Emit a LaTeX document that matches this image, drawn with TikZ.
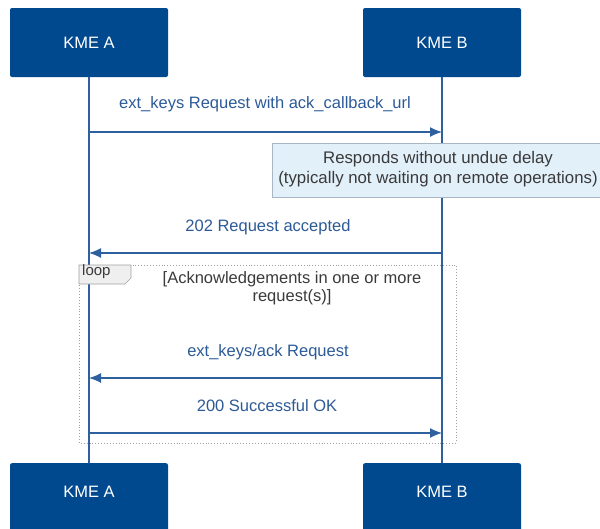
\documentclass[tikz,border=0pt]{standalone}
\usepackage{fontspec}
\setmainfont{Liberation Sans}
\usetikzlibrary{arrows.meta}
\definecolor{kmefill}{HTML}{00498F}
\definecolor{lineblue}{HTML}{2E5F9E}
\definecolor{labelblue}{HTML}{2C5A96}
\definecolor{notefill}{HTML}{E2F0FA}
\definecolor{noteborder}{HTML}{A9B6C4}
\definecolor{textgray}{HTML}{3A3A3A}
\definecolor{loopgray}{HTML}{A0A0A0}
\definecolor{tabfill}{HTML}{EFEFEF}
\tikzset{
  kme/.style={fill=kmefill, draw=none, rounded corners=2pt, minimum width=158pt, minimum height=69pt, text=white, font=\fontsize{16.5}{18}\selectfont, inner sep=0pt},
  kmetext/.style={text=white, font=\fontsize{16.5}{18}\selectfont, inner sep=0pt},
  life/.style={draw=lineblue, line width=1.3pt},
  msg/.style={draw=lineblue, line width=1.3pt, -{Latex[length=12pt,width=10pt]}},
  msglabel/.style={text=labelblue, font=\fontsize{16.5}{18}\selectfont, inner sep=0pt},
  notebox/.style={fill=notefill, draw=noteborder, line width=0.6pt},
  notetext/.style={text=textgray, font=\fontsize{16.8}{20}\selectfont, align=center, inner sep=0pt},
  guardtext/.style={text=textgray, font=\fontsize{16.5}{17.5}\selectfont, align=center, inner sep=0pt},
  loopframe/.style={draw=loopgray, dotted, line width=0.9pt},
}
\begin{document}
\begin{tikzpicture}[x=1pt, y=-1pt]
\useasboundingbox (0,0) rectangle (600,528);
% participant boxes
\node[kme] (topA) at (89,42.5) {KME A};
\node[kme] (topB) at (442,42.5) {KME B};
\node[kme, anchor=north] (botA) at (89,463) {};
\node[kme, anchor=north] (botB) at (442,463) {};
\node[kmetext] (botAtext) at (89,492) {KME A};
\node[kmetext] (botBtext) at (442,492) {KME B};
% lifelines
\draw[life] (topA.south) -- (botA.north);
\draw[life] (topB.south) -- (botB.north);
% message 1
\coordinate (a1) at (topA.south |- 0,132);
\coordinate (b1) at (topB.south |- 0,132);
\draw[msg] (a1) -- (b1);
\node[msglabel] (l1) at (265,104) {ext\_keys Request with ack\_callback\_url};
% note
\path[notebox] (272,143) rectangle (602,197);
\node[notetext] (note) at (438,169) {Responds without undue delay\\(typically not waiting on remote operations)};
% message 2
\coordinate (b2) at (topB.south |- 0,253);
\coordinate (a2) at (topA.south |- 0,253);
\draw[msg] (b2) -- (a2);
\node[msglabel] (l2) at (268,227) {202 Request accepted};
% loop frame
\draw[loopframe] (79,265) rectangle (456,443);
\draw[draw=loopgray, fill=tabfill, line width=0.6pt] (79,265) -- (131,265) -- (131,278) -- (125,284) -- (79,284) -- cycle;
\node[text=textgray, font=\fontsize{15}{17}\selectfont, inner sep=0pt, anchor=west] (looplbl) at (82,272) {loop};
\node[guardtext] (guard) at (292,288) {[Acknowledgements in one or more\\request(s)]};
% message 3
\coordinate (b3) at (topB.south |- 0,378);
\coordinate (a3) at (topA.south |- 0,378);
\draw[msg] (b3) -- (a3);
\node[msglabel] (l3) at (268,352) {ext\_keys/ack Request};
% message 4
\coordinate (a4) at (topA.south |- 0,433);
\coordinate (b4) at (topB.south |- 0,433);
\draw[msg] (a4) -- (b4);
\node[msglabel] (l4) at (267,406) {200 Successful OK};
\end{tikzpicture}
\end{document}
